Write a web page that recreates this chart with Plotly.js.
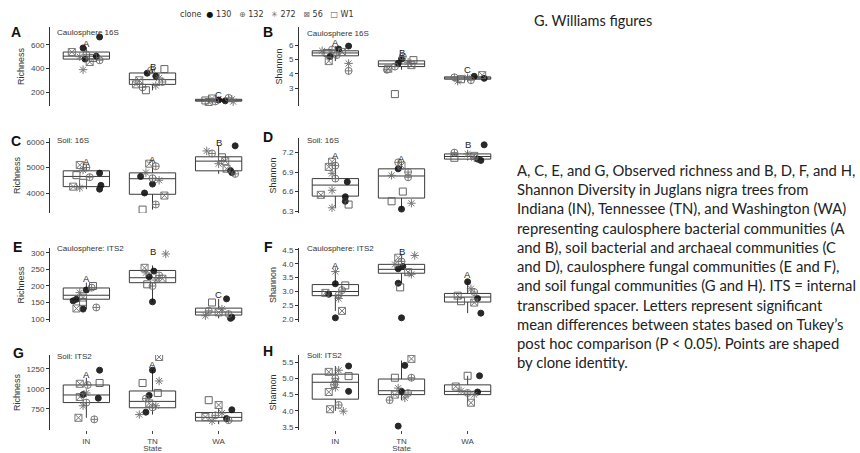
<!DOCTYPE html>
<html><head><meta charset="utf-8">
<script src="https://cdn.plot.ly/plotly-3.0.1.min.js"></script>
<style>html,body{margin:0;padding:0;background:#fff}#chart{width:860px;height:453px}</style>
</head><body><div id="chart"></div>
<script>
const states = ['IN','TN','WA'];
const clones = ['130','132','272','56','W1'];

// ---- Panel A: Caulosphere 16S richness ----
const A_n = [11,11,9];
const A_val = [668,575,540,520,505,500,490,480,470,455,390,  395,385,360,335,320,300,285,265,255,240,215,  150,145,138,132,128,125,120,118,115];
const A_clone = ['130','130','56','132','130','272','W1','130','132','56','272',  'W1','132','130','130','272','56','132','56','272','132','W1',  '132','56','272','130','W1','130','132','272','56'];
const A_jit = [0.2,-0.05,-0.22,0,0.15,-0.1,0.1,-0.02,0.2,0.05,-0.05,  0.18,-0.02,-0.08,0.05,0.1,-0.2,0.15,-0.25,0.05,-0.15,-0.1,  0.15,-0.1,0.2,0,-0.2,0.1,-0.05,0.22,-0.15];
const A_q1 = [480,265,122], A_med = [505,305,130], A_q3 = [540,362,138], A_lo = [455,215,115], A_hi = [580,395,150];
const A_sig = ['A','B','C'], A_sigY = [615,418,178];

// ---- Panel B: Caulosphere 16S Shannon ----
const B_n = [11,10,8];
const B_val = [5.93,5.72,5.68,5.6,5.52,5.45,5.3,5.2,4.88,4.72,4.2,  5.2,5.02,4.95,4.8,4.72,4.6,4.5,4.35,4.28,2.58,  3.9,3.82,3.75,3.72,3.68,3.62,3.55,3.48];
const B_clone = ['130','130','132','272','56','W1','132','130','56','272','132',  '132','130','W1','272','130','56','132','56','132','W1',  '56','130','132','272','130','W1','132','272'];
const B_jit = [0.2,0.05,-0.05,-0.2,0.1,-0.12,0.02,-0.08,-0.1,0.2,0.2,  0.02,0,0.18,0.1,-0.05,0.15,-0.1,-0.2,-0.22,-0.1,  0.22,0.1,-0.2,0,0.25,-0.1,0.05,-0.15];
const B_q1 = [5.25,4.5,3.62], B_med = [5.45,4.68,3.7], B_q3 = [5.6,4.9,3.78], B_lo = [4.88,4.28,3.48], B_hi = [5.93,5.2,3.9];
const B_sig = ['A','B','C'], B_sigY = [6.2,5.45,4.3];

// ---- Panel C: Soil 16S richness ----
const C_n = [11,11,10];
const C_val = [5100,5000,4900,4780,4700,4620,4400,4300,4250,4200,4150,  5150,5050,4800,4650,4580,4500,4350,4000,3900,3550,3350,  5850,5650,5550,5400,5250,5150,4950,4880,4800,4750];
const C_clone = ['56','132','272','130','W1','132','W1','130','56','272','130',  '56','132','272','130','132','272','130','130','56','132','W1',  '130','272','132','W1','56','272','56','130','130','132'];
const C_jit = [-0.1,0,-0.05,0.2,-0.15,0.05,-0.05,0.22,-0.2,-0.1,0.2,  -0.05,0.05,-0.1,-0.18,0,0.1,0,-0.12,0.18,0.05,-0.15,  0.25,-0.18,-0.1,0.05,0.1,0,0.12,0.18,0.2,0.25];
const C_q1 = [4250,3950,4870], C_med = [4650,4560,5250], C_q3 = [4870,4790,5420], C_lo = [4150,3350,4750], C_hi = [5100,5150,5850];
const C_sig = ['A','A','B'], C_sigY = [5250,5300,6000];

// ---- Panel D: Soil 16S Shannon ----
const D_n = [12,10,8];
const D_val = [7.06,7.0,6.98,6.88,6.8,6.75,6.62,6.55,6.52,6.45,6.4,6.35,  7.05,7.0,6.95,6.9,6.85,6.82,6.6,6.45,6.42,6.33,  7.32,7.2,7.18,7.15,7.12,7.1,7.08,7.12];
const D_clone = ['56','132','56','272','132','130','272','56','130','130','W1','272',  '132','56','130','132','272','132','W1','W1','272','130',  '130','132','272','56','W1','130','130','272'];
const D_jit = [-0.05,0,-0.1,-0.05,0,0.18,-0.05,-0.22,0.15,0.15,0.2,-0.05,  -0.05,0,-0.05,0.1,-0.15,0.1,0.02,-0.15,0.15,0,  0.25,-0.2,0,0.1,-0.2,0.15,0.2,0.1];
const D_q1 = [6.53,6.5,7.1], D_med = [6.7,6.84,7.14], D_q3 = [6.8,6.95,7.18], D_lo = [6.35,6.33,7.08], D_hi = [7.06,7.05,7.22];
const D_sig = ['A','A','B'], D_sigY = [7.15,7.11,7.32];

// ---- Panel E: Caulosphere ITS2 richness ----
const E_n = [11,11,9];
const E_val = [200,195,188,180,165,160,155,152,135,132,130,  297,255,245,240,232,228,222,218,205,200,152,  161,150,130,125,120,115,110,105,102];
const E_clone = ['W1','132','130','272','56','130','130','W1','132','56','130',  '272','56','130','272','132','130','56','272','W1','132','130',  '130','W1','272','132','56','132','272','130','130'];
const E_jit = [0.1,0.08,0,-0.1,-0.05,-0.15,-0.2,-0.05,0.15,-0.15,-0.05,  0.2,-0.12,0.02,-0.1,0.1,-0.05,0.15,0.05,-0.08,0,0,  0.12,-0.1,0.05,-0.15,0,0.15,-0.2,0.2,0.18];
const E_q1 = [160,210,112], E_med = [172,225,121], E_q3 = [194,247,133], E_lo = [130,152,102], E_hi = [210,262,161];
const E_sig = ['A','B','C'], E_sigY = [222,303,175];

// ---- Panel F: Caulosphere ITS2 Shannon ----
const F_n = [10,11,8];
const F_val = [3.72,3.28,3.22,3.05,2.95,2.9,2.88,2.75,2.3,2.05,  4.3,4.22,4.08,3.98,3.9,3.82,3.7,3.62,3.3,3.15,2.05,  3.35,3.1,2.98,2.85,2.75,2.65,2.6,2.22];
const F_clone = ['272','130','W1','132','56','130','132','272','56','130',  '272','56','132','272','130','130','56','272','130','W1','130',  '130','272','132','56','130','W1','56','130'];
const F_jit = [0,0,0.15,0.1,-0.15,-0.1,0.05,0.05,0.1,0,  0.2,-0.05,0,-0.1,0.02,-0.05,0.1,0.15,-0.05,-0.02,0,  0,0.05,0.1,-0.15,0.15,-0.1,0.1,0.2];
const F_q1 = [2.85,3.66,2.62], F_med = [3.0,3.8,2.8], F_q3 = [3.25,3.98,2.93], F_lo = [2.3,3.3,2.22], F_hi = [3.72,4.3,3.35];
const F_sig = ['A','B','A'], F_sigY = [3.95,4.45,3.6];

// ---- Panel G: Soil ITS2 richness ----
const G_n = [12,12,9];
const G_val = [1235,1075,1065,1050,950,930,900,885,830,790,640,620,  1400,1235,1100,1075,950,920,880,820,790,770,710,680,  860,800,740,700,670,650,630,610,600];
const G_clone = ['130','W1','56','132','272','130','56','130','132','272','56','132',  '56','130','272','W1','W1','130','132','56','272','132','130','272',  'W1','56','130','272','132','56','130','132','272'];
const G_jit = [0.2,0.2,-0.1,0.02,0,-0.05,-0.1,0.18,0,-0.05,-0.12,0.12,  0.1,0,0.1,-0.15,0.08,-0.05,-0.1,-0.05,0.05,0,-0.1,-0.2,  -0.15,0,0.2,0.05,-0.05,-0.2,0.12,0.15,-0.1];
const G_q1 = [830,765,600], G_med = [925,845,645], G_q3 = [1050,975,705], G_lo = [640,680,560], G_hi = [1140,1240,760];
const G_sig = ['A','A',''], G_sigY = [1180,1310,0];

// ---- Panel H: Soil ITS2 Shannon ----
const H_n = [13,11,8];
const H_val = [5.38,5.25,5.2,5.07,5.0,4.9,4.8,4.72,4.58,4.6,4.18,4.05,3.99,  5.6,5.4,5.02,5.02,4.7,4.6,4.55,4.5,4.4,4.33,3.53,  5.08,5.08,4.75,4.62,4.58,4.55,4.5,4.25];
const H_clone = ['130','272','56','W1','132','272','132','272','56','130','132','56','272',  '56','130','W1','132','272','130','132','56','272','132','130',  'W1','130','56','272','130','132','272','56'];
const H_jit = [0.2,0.05,-0.1,0.2,0,0,-0.02,0,-0.1,0.2,0.05,-0.08,0.12,  0.15,0.05,-0.1,0.15,-0.05,0,0.1,-0.1,0.05,-0.18,-0.05,  0,0.18,-0.18,-0.1,0.15,0,0.1,0.05];
const H_q1 = [4.36,4.5,4.5], H_med = [4.88,4.62,4.6], H_q3 = [5.13,4.98,4.8], H_lo = [4.0,4.33,4.25], H_hi = [5.38,5.55,5.08];
const H_sig = ['','',''], H_sigY = [0,0,0];

// ---- assemble ----
const W = 860, Hpx = 453;
const colDom = [[50/W,255/W],[299/W,504/W]];
const rowDom = [[1-106/Hpx,1-27/Hpx],[1-213/Hpx,1-138/Hpx],[1-322/Hpx,1-248/Hpx],[1-430/Hpx,1-355/Hpx]];

const panels = [
 {id:'A',n:A_n,v:A_val,c:A_clone,j:A_jit,q1:A_q1,med:A_med,q3:A_q3,lo:A_lo,hi:A_hi,sig:A_sig,sy:A_sigY,range:[81,753],tv:[200,400,600],fmt:'',yt:'Richness',sub:'Caulosphere 16S',lx:16,ly:32,sx:55,sy2:32},
 {id:'B',n:B_n,v:B_val,c:B_clone,j:B_jit,q1:B_q1,med:B_med,q3:B_q3,lo:B_lo,hi:B_hi,sig:B_sig,sy:B_sigY,range:[1.75,7.26],tv:[3,4,5,6],fmt:'',yt:'Shannon',sub:'Caulosphere 16S',lx:268,ly:32,sx:305,sy2:33},
 {id:'C',n:C_n,v:C_val,c:C_clone,j:C_jit,q1:C_q1,med:C_med,q3:C_q3,lo:C_lo,hi:C_hi,sig:C_sig,sy:C_sigY,range:[3216,6157],tv:[4000,5000,6000],fmt:'',yt:'Richness',sub:'Soil: 16S',lx:16,ly:141,sx:55,sy2:140},
 {id:'D',n:D_n,v:D_val,c:D_clone,j:D_jit,q1:D_q1,med:D_med,q3:D_q3,lo:D_lo,hi:D_hi,sig:D_sig,sy:D_sigY,range:[6.27,7.425],tv:[6.3,6.6,6.9,7.2],fmt:'.1f',yt:'Shannon',sub:'Soil: 16S',lx:268,ly:137,sx:305,sy2:140},
 {id:'E',n:E_n,v:E_val,c:E_clone,j:E_jit,q1:E_q1,med:E_med,q3:E_q3,lo:E_lo,hi:E_hi,sig:E_sig,sy:E_sigY,range:[91,315],tv:[100,150,200,250,300],fmt:'',yt:'Richness',sub:'Caulosphere: ITS2',lx:17,ly:247,sx:55,sy2:248},
 {id:'F',n:F_n,v:F_val,c:F_clone,j:F_jit,q1:F_q1,med:F_med,q3:F_q3,lo:F_lo,hi:F_hi,sig:F_sig,sy:F_sigY,range:[1.9,4.57],tv:[2,2.5,3,3.5,4,4.5],fmt:'.1f',yt:'Shannon',sub:'Caulosphere: ITS2',lx:268,ly:247,sx:305,sy2:248},
 {id:'G',n:G_n,v:G_val,c:G_clone,j:G_jit,q1:G_q1,med:G_med,q3:G_q3,lo:G_lo,hi:G_hi,sig:G_sig,sy:G_sigY,range:[487,1425],tv:[750,1000,1250],fmt:'',yt:'Richness',sub:'Soil: ITS2',lx:18,ly:353,sx:55,sy2:356},
 {id:'H',n:H_n,v:H_val,c:H_clone,j:H_jit,q1:H_q1,med:H_med,q3:H_q3,lo:H_lo,hi:H_hi,sig:H_sig,sy:H_sigY,range:[3.41,5.72],tv:[3.5,4,4.5,5,5.5],fmt:'.1f',yt:'Shannon',sub:'Soil: ITS2',lx:268,ly:351,sx:305,sy2:355}
];

const cloneStyle = {
 '130': {symbol:'circle', color:'#111', size:6, lw:1},
 '132': {symbol:'circle-cross-open', color:'#6a6a6a', size:7, lw:1},
 '272': {symbol:'asterisk-open', color:'#6a6a6a', size:7, lw:1},
 '56':  {symbol:'square-x-open', color:'#6a6a6a', size:7, lw:1},
 'W1':  {symbol:'square-open', color:'#555', size:7, lw:1}
};

const FONT = 'Liberation Sans, Arial, sans-serif';
const traces = [];
const layout = {
  width: W, height: Hpx, margin:{l:0,r:0,t:0,b:0},
  paper_bgcolor:'#fff', plot_bgcolor:'rgba(0,0,0,0)',
  showlegend:false, font:{family:FONT, color:'#333'},
  annotations:[]
};
const px = x => x/W, py = y => 1 - y/Hpx;

panels.forEach((p,i) => {
  const k = i+1, sfx = k===1 ? '' : String(k);
  const xa = 'x'+sfx, ya = 'y'+sfx;
  const row = Math.floor(i/2), col = i%2;
  const st = [];
  p.n.forEach((cnt,s) => { for (let q=0;q<cnt;q++) st.push(s); });
  traces.push({
    type:'box', x:[0,1,2], q1:p.q1, median:p.med, q3:p.q3, lowerfence:p.lo, upperfence:p.hi,
    width:0.7, boxpoints:false, whiskerwidth:0, line:{color:'#3a3a3a',width:1},
    fillcolor:'rgba(255,255,255,0)', hoverinfo:'skip', xaxis:xa, yaxis:ya, showlegend:false
  });
  clones.forEach(cl => {
    const xs=[], ys=[];
    p.v.forEach((val,idx) => { if (p.c[idx]===cl) { xs.push(st[idx]+p.j[idx]); ys.push(val); } });
    const s = cloneStyle[cl];
    traces.push({type:'scatter', mode:'markers', x:xs, y:ys, name:cl, xaxis:xa, yaxis:ya,
      marker:{symbol:s.symbol, color:s.color, size:s.size, line:{color:s.color,width:s.lw}},
      opacity:0.9, showlegend:false, hoverinfo:'y'});
  });
  const bottom = row===3;
  layout['xaxis'+sfx] = {domain:colDom[col], anchor:ya, range:[-0.55,2.55], tickvals:[0,1,2], ticktext:states,
    showticklabels:bottom, ticks: bottom?'outside':'', ticklen:3, tickcolor:'#444',
    showline:false, showgrid:false, zeroline:false, tickfont:{size:8,color:'#444'},
    title: bottom ? {text:'State', font:{size:8,color:'#444'}, standoff:2} : {text:''}};
  layout['yaxis'+sfx] = {domain:rowDom[row], anchor:xa, range:p.range, tickvals:p.tv, tickformat:p.fmt,
    showline:true, linecolor:'#333', linewidth:1, ticks:'outside', ticklen:3, tickcolor:'#333',
    showgrid:false, zeroline:false, tickfont:{size:8,color:'#444'},
    title:{text:p.yt, font:{size:9,color:'#333'}, standoff:4}};
  layout.annotations.push({xref:'paper',yref:'paper',x:px(p.lx),y:py(p.ly),xanchor:'center',yanchor:'middle',
    text:'<b>'+p.id+'</b>',showarrow:false,font:{size:14,color:'#111',family:FONT}});
  layout.annotations.push({xref:'paper',yref:'paper',x:px(p.sx),y:py(p.sy2),xanchor:'left',yanchor:'middle',
    text:p.sub,showarrow:false,font:{size:8,color:'#333',family:FONT}});
  p.sig.forEach((L,s) => { if (L) layout.annotations.push({xref:xa,yref:ya,x:s,y:p.sy[s],text:L,showarrow:false,
    xanchor:'center',yanchor:'middle',font:{size:9.5,color:'#222',family:FONT}}); });
});

const g = c => '<span style="color:'+c+'">';
layout.annotations.push({xref:'paper',yref:'paper',x:px(178),y:py(14),xanchor:'left',yanchor:'middle',showarrow:false,
  font:{size:8,color:'#333',family:'DejaVu Sans, sans-serif'},
  text:'clone&nbsp;&nbsp;'+g('#111')+'●</span>&nbsp;130&nbsp;&nbsp;&nbsp;'+g('#666')+'⊕</span>&nbsp;132&nbsp;&nbsp;&nbsp;'+g('#666')+'✳</span>&nbsp;272&nbsp;&nbsp;&nbsp;'+g('#666')+'⊠</span>&nbsp;56&nbsp;&nbsp;&nbsp;'+g('#555')+'□</span>&nbsp;W1'});

layout.annotations.push({xref:'paper',yref:'paper',x:px(532),y:py(20),xanchor:'left',yanchor:'middle',showarrow:false,
  text:'G. Williams figures',font:{size:14.5,color:'#222',family:'Lato, Open Sans, sans-serif'}});
const caption = [
 'A, C, E, and G, Observed richness and B, D, F, and H,',
 'Shannon Diversity in Juglans nigra trees from',
 'Indiana (IN), Tennessee (TN), and Washington (WA)',
 'representing caulosphere bacterial communities (A',
 'and B), soil bacterial and archaeal communities (C',
 'and D), caulosphere fungal communities (E and F),',
 'and soil fungal communities (G and H). ITS = internal',
 'transcribed spacer. Letters represent significant',
 'mean differences between states based on Tukey’s',
 'post hoc comparison (P &lt; 0.05). Points are shaped',
 'by clone identity.'
];
layout.annotations.push({xref:'paper',yref:'paper',x:px(515),y:py(159),xanchor:'left',yanchor:'top',align:'left',showarrow:false,
  text:caption.join('<br>'),font:{size:14.8,color:'#222',family:'Lato, Open Sans, sans-serif'}});

Plotly.newPlot('chart', traces, layout, {staticPlot:true, displayModeBar:false});
</script>
</body></html>
